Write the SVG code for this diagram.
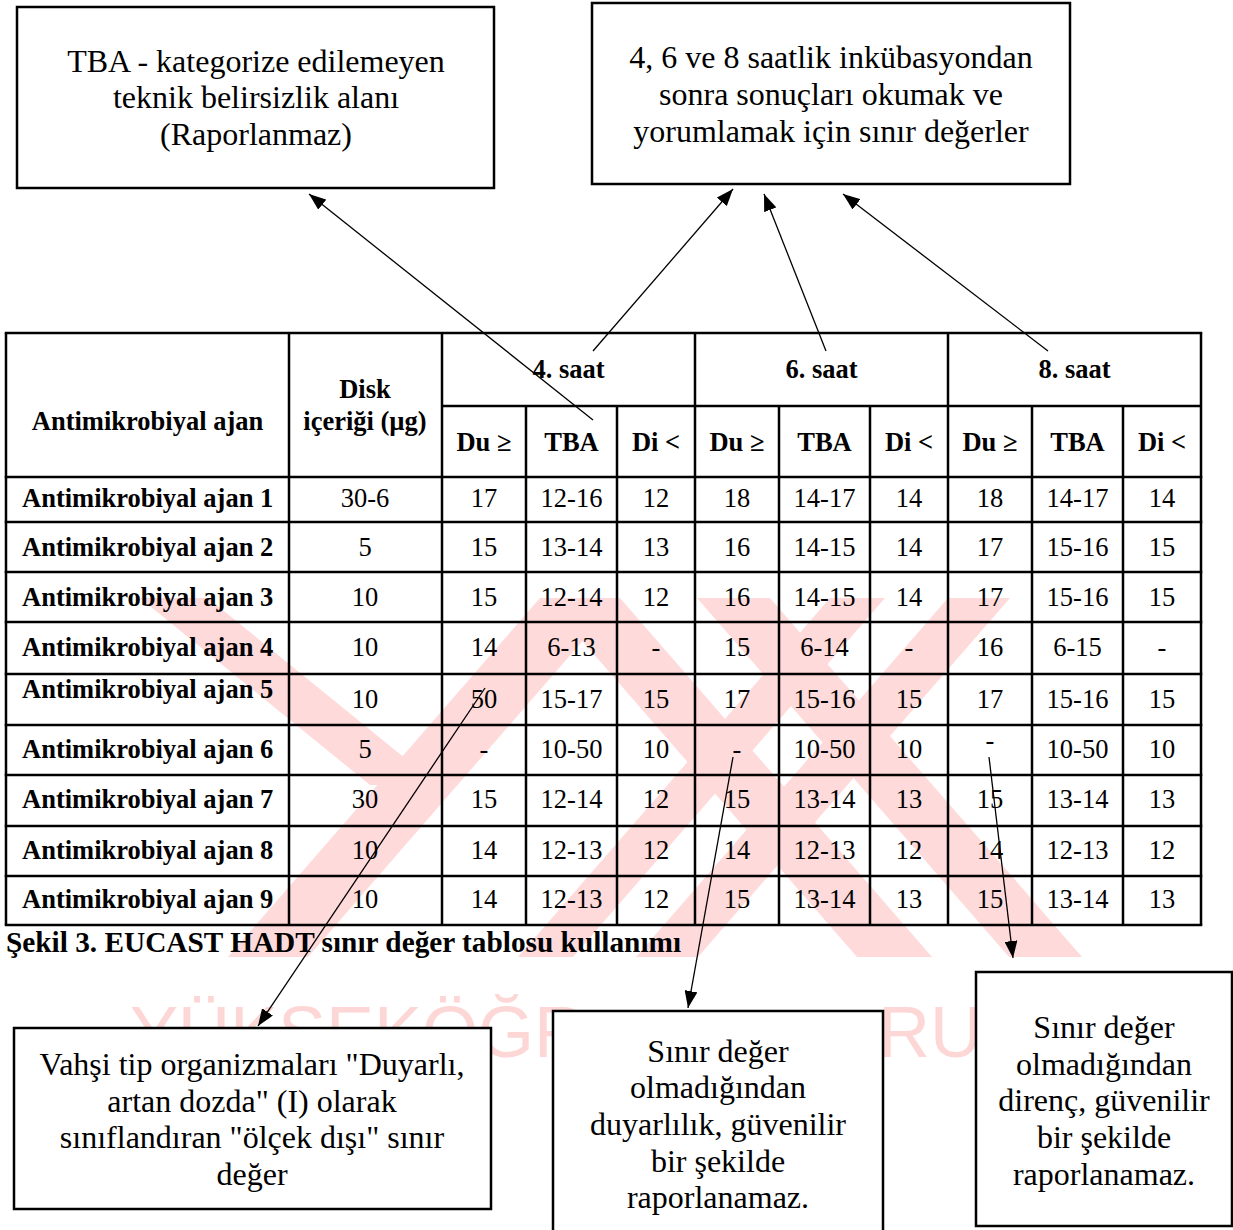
<svg xmlns="http://www.w3.org/2000/svg" width="1233" height="1230" viewBox="0 0 1233 1230">
<defs>
<style>
.bx{fill:#fff;stroke:#000;stroke-width:2.5}
.bt{font-family:"Liberation Serif","Times New Roman",serif;font-size:32px;fill:#000;text-anchor:middle}
.tl{stroke:#000;stroke-width:2.5;fill:none}
.th{font-family:"Liberation Serif","Times New Roman",serif;font-size:26.5px;font-weight:bold;fill:#000;text-anchor:middle}
.rl{font-family:"Liberation Serif","Times New Roman",serif;font-size:26.5px;font-weight:bold;fill:#000}
.td{font-family:"Liberation Serif","Times New Roman",serif;font-size:26.5px;fill:#000;text-anchor:middle}
.cap{font-family:"Liberation Serif","Times New Roman",serif;font-size:29.3px;font-weight:bold;fill:#000}
.wm{fill:#ffdada}
.wt{font-family:"Liberation Sans",Arial,sans-serif;font-size:72px;fill:#fdd6d6}
.cn{stroke:#000;stroke-width:1.3;fill:none;marker-end:url(#ah)}
</style>
<marker id="ah" markerUnits="userSpaceOnUse" markerWidth="17" markerHeight="13" refX="17" refY="6.5" orient="auto">
<path d="M0,0 L17,6.5 L0,13 z" fill="#000"/>
</marker>
</defs>
<rect width="1233" height="1230" fill="#fff"/>
<g id="watermark">
<polygon class="wm" points="140,598 208,598 438,785 370,785"/>
<polygon class="wm" points="540,598 620,598 308,957 228,957"/>
<polygon class="wm" points="545,598 620,598 932,957 857,957"/>
<polygon class="wm" points="830,598 885,598 573,957 518,957"/>
<polygon class="wm" points="948,598 1010,598 698,957 636,957"/>
<polygon class="wm" points="697,598 770,598 1082,957 1009,957"/>
<text class="wt" x="130" y="1057">YÜKSEKÖĞR</text>
<text class="wt" x="878" y="1057">RU</text>
</g>
<g id="table">
<g class="tl">
<line x1="4.75" y1="333" x2="1202.25" y2="333"/>
<line x1="442" y1="406" x2="1201" y2="406"/>
<line x1="4.75" y1="477" x2="1202.25" y2="477"/>
<line x1="4.75" y1="522" x2="1202.25" y2="522"/>
<line x1="4.75" y1="572" x2="1202.25" y2="572"/>
<line x1="4.75" y1="622" x2="1202.25" y2="622"/>
<line x1="4.75" y1="674" x2="1202.25" y2="674"/>
<line x1="4.75" y1="725" x2="1202.25" y2="725"/>
<line x1="4.75" y1="775" x2="1202.25" y2="775"/>
<line x1="4.75" y1="826" x2="1202.25" y2="826"/>
<line x1="4.75" y1="876" x2="1202.25" y2="876"/>
<line x1="4.75" y1="925" x2="1202.25" y2="925"/>
<line x1="6" y1="333" x2="6" y2="925"/>
<line x1="289" y1="333" x2="289" y2="925"/>
<line x1="442" y1="333" x2="442" y2="925"/>
<line x1="695" y1="333" x2="695" y2="925"/>
<line x1="948" y1="333" x2="948" y2="925"/>
<line x1="1201" y1="333" x2="1201" y2="925"/>
<line x1="526" y1="406" x2="526" y2="925"/>
<line x1="617" y1="406" x2="617" y2="925"/>
<line x1="779" y1="406" x2="779" y2="925"/>
<line x1="870" y1="406" x2="870" y2="925"/>
<line x1="1032" y1="406" x2="1032" y2="925"/>
<line x1="1123" y1="406" x2="1123" y2="925"/>
</g>
<text class="th" x="147.5" y="430">Antimikrobiyal ajan</text>
<text class="th" x="365" y="398">Disk</text>
<text class="th" x="365" y="430">içeriği (µg)</text>
<text class="th" x="568.5" y="378">4. saat</text>
<text class="th" x="821.5" y="378">6. saat</text>
<text class="th" x="1074.5" y="378">8. saat</text>
<g class="th">
<text x="484" y="451">Du ≥</text><text x="571.5" y="451">TBA</text><text x="656" y="451">Di &lt;</text>
<text x="737" y="451">Du ≥</text><text x="824.5" y="451">TBA</text><text x="909" y="451">Di &lt;</text>
<text x="990" y="451">Du ≥</text><text x="1077.5" y="451">TBA</text><text x="1162" y="451">Di &lt;</text>
</g>
<g class="rl">
<text x="22" y="507">Antimikrobiyal ajan 1</text>
<text x="22" y="556">Antimikrobiyal ajan 2</text>
<text x="22" y="606">Antimikrobiyal ajan 3</text>
<text x="22" y="656">Antimikrobiyal ajan 4</text>
<text x="22" y="698">Antimikrobiyal ajan 5</text>
<text x="22" y="758">Antimikrobiyal ajan 6</text>
<text x="22" y="808">Antimikrobiyal ajan 7</text>
<text x="22" y="859">Antimikrobiyal ajan 8</text>
<text x="22" y="908">Antimikrobiyal ajan 9</text>
</g>
<g class="td">
<text x="365" y="507">30-6</text><text x="484" y="507">17</text><text x="571.5" y="507">12-16</text><text x="656" y="507">12</text><text x="737" y="507">18</text><text x="824.5" y="507">14-17</text><text x="909" y="507">14</text><text x="990" y="507">18</text><text x="1077.5" y="507">14-17</text><text x="1162" y="507">14</text>
<text x="365" y="556">5</text><text x="484" y="556">15</text><text x="571.5" y="556">13-14</text><text x="656" y="556">13</text><text x="737" y="556">16</text><text x="824.5" y="556">14-15</text><text x="909" y="556">14</text><text x="990" y="556">17</text><text x="1077.5" y="556">15-16</text><text x="1162" y="556">15</text>
<text x="365" y="606">10</text><text x="484" y="606">15</text><text x="571.5" y="606">12-14</text><text x="656" y="606">12</text><text x="737" y="606">16</text><text x="824.5" y="606">14-15</text><text x="909" y="606">14</text><text x="990" y="606">17</text><text x="1077.5" y="606">15-16</text><text x="1162" y="606">15</text>
<text x="365" y="656">10</text><text x="484" y="656">14</text><text x="571.5" y="656">6-13</text><text x="656" y="656">-</text><text x="737" y="656">15</text><text x="824.5" y="656">6-14</text><text x="909" y="656">-</text><text x="990" y="656">16</text><text x="1077.5" y="656">6-15</text><text x="1162" y="656">-</text>
<text x="365" y="708">10</text><text x="484" y="708">50</text><text x="571.5" y="708">15-17</text><text x="656" y="708">15</text><text x="737" y="708">17</text><text x="824.5" y="708">15-16</text><text x="909" y="708">15</text><text x="990" y="708">17</text><text x="1077.5" y="708">15-16</text><text x="1162" y="708">15</text>
<text x="365" y="758">5</text><text x="484" y="758">-</text><text x="571.5" y="758">10-50</text><text x="656" y="758">10</text><text x="737" y="758">-</text><text x="824.5" y="758">10-50</text><text x="909" y="758">10</text><text x="990" y="749">-</text><text x="1077.5" y="758">10-50</text><text x="1162" y="758">10</text>
<text x="365" y="808">30</text><text x="484" y="808">15</text><text x="571.5" y="808">12-14</text><text x="656" y="808">12</text><text x="737" y="808">15</text><text x="824.5" y="808">13-14</text><text x="909" y="808">13</text><text x="990" y="808">15</text><text x="1077.5" y="808">13-14</text><text x="1162" y="808">13</text>
<text x="365" y="859">10</text><text x="484" y="859">14</text><text x="571.5" y="859">12-13</text><text x="656" y="859">12</text><text x="737" y="859">14</text><text x="824.5" y="859">12-13</text><text x="909" y="859">12</text><text x="990" y="859">14</text><text x="1077.5" y="859">12-13</text><text x="1162" y="859">12</text>
<text x="365" y="908">10</text><text x="484" y="908">14</text><text x="571.5" y="908">12-13</text><text x="656" y="908">12</text><text x="737" y="908">15</text><text x="824.5" y="908">13-14</text><text x="909" y="908">13</text><text x="990" y="908">15</text><text x="1077.5" y="908">13-14</text><text x="1162" y="908">13</text>
</g>
<text class="cap" x="6" y="952">Şekil 3. EUCAST HADT sınır değer tablosu kullanımı</text>
</g>
<g id="node-tba">
<rect class="bx" x="17" y="7" width="477" height="181"/>
<text class="bt" x="256" y="72">TBA - kategorize edilemeyen</text>
<text class="bt" x="256" y="108">teknik belirsizlik alanı</text>
<text class="bt" x="256" y="145">(Raporlanmaz)</text>
</g>
<g id="node-breakpoints">
<rect class="bx" x="592" y="3" width="478" height="181"/>
<text class="bt" x="831" y="68">4, 6 ve 8 saatlik inkübasyondan</text>
<text class="bt" x="831" y="105">sonra sonuçları okumak ve</text>
<text class="bt" x="831" y="142">yorumlamak için sınır değerler</text>
</g>
<g id="node-wildtype">
<rect class="bx" x="14" y="1028" width="477" height="181"/>
<text class="bt" x="252" y="1075">Vahşi tip organizmaları "Duyarlı,</text>
<text class="bt" x="252" y="1112">artan dozda" (I) olarak</text>
<text class="bt" x="252" y="1148">sınıflandıran "ölçek dışı" sınır</text>
<text class="bt" x="252" y="1185">değer</text>
</g>
<g id="node-no-susceptible">
<rect class="bx" x="553" y="1011" width="330" height="225"/>
<text class="bt" x="718" y="1062">Sınır değer</text>
<text class="bt" x="718" y="1098">olmadığından</text>
<text class="bt" x="718" y="1135">duyarlılık, güvenilir</text>
<text class="bt" x="718" y="1172">bir şekilde</text>
<text class="bt" x="718" y="1208">raporlanamaz.</text>
</g>
<g id="node-no-resistant">
<rect class="bx" x="976" y="972" width="256" height="254"/>
<text class="bt" x="1104" y="1038">Sınır değer</text>
<text class="bt" x="1104" y="1075">olmadığından</text>
<text class="bt" x="1104" y="1111">direnç, güvenilir</text>
<text class="bt" x="1104" y="1148">bir şekilde</text>
<text class="bt" x="1104" y="1185">raporlanamaz.</text>
</g>
<g id="connectors">
<line class="cn" x1="593" y1="420" x2="309" y2="194"/>
<line class="cn" x1="593" y1="351" x2="733" y2="189"/>
<line class="cn" x1="826" y1="351" x2="764" y2="194"/>
<line class="cn" x1="1048" y1="351" x2="843" y2="194"/>
<line class="cn" x1="485" y1="688" x2="258" y2="1026"/>
<line class="cn" x1="733" y1="757" x2="688" y2="1008"/>
<line class="cn" x1="989" y1="757" x2="1013" y2="958"/>
</g>
</svg>
